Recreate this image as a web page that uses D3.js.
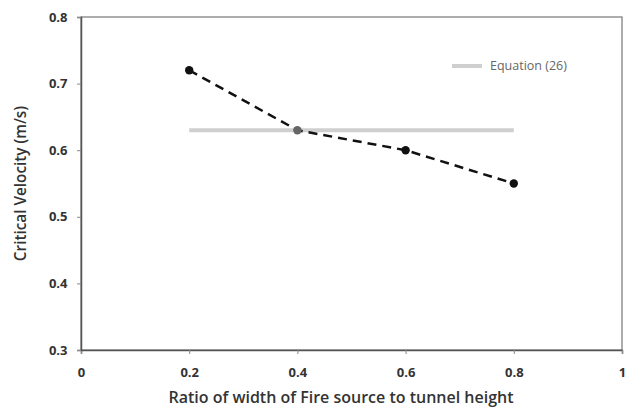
<!DOCTYPE html>
<html><head><meta charset="utf-8">
<script src="https://cdn.jsdelivr.net/npm/d3@7"></script>
<style>body{margin:0;background:#fff}svg{display:block}text{font-family:"Open Sans","Liberation Sans",sans-serif}</style>
</head><body><svg id="c" width="632" height="410"></svg>
<script>
const ratios = [0.2, 0.4, 0.6, 0.8];
const velocities = [0.72, 0.63, 0.60, 0.55];
const equationX = [0.2, 0.8];
const equationY = [0.63, 0.63];
const xTicks = [0, 0.2, 0.4, 0.6, 0.8, 1];
const yTicks = [0.3, 0.4, 0.5, 0.6, 0.7, 0.8];
const legendLabel = "Equation (26)";
const xTitle = "Ratio of width of Fire source to tunnel height";
const yTitle = "Critical Velocity (m/s)";

const svg = d3.select("#c");
const m = {l:81, r:10, t:17, b:60};
const W = 632, H = 410;
const x = d3.scaleLinear().domain([0,1]).range([m.l, W-m.r]);
const y = d3.scaleLinear().domain([0.3,0.8]).range([H-m.b, m.t]);

// frame
svg.append("rect").attr("x", x(0)).attr("y", y(0.8)).attr("width", x(1)-x(0)).attr("height", y(0.3)-y(0.8))
  .attr("fill","none").attr("stroke","#777").attr("stroke-width",1.2);

const xa = svg.append("g").attr("transform",`translate(0,${y(0.3)})`)
  .call(d3.axisBottom(x).tickValues(xTicks).tickSize(4).tickFormat(d3.format("")));
const ya = svg.append("g").attr("transform",`translate(${x(0)},0)`)
  .call(d3.axisLeft(y).tickValues(yTicks).tickSize(4).tickFormat(d3.format(".1f")));
[xa, ya].forEach(a=>{
  a.select(".domain").attr("stroke","#555").attr("stroke-width",1.5);
  a.selectAll(".tick line").attr("stroke","#888");
  a.selectAll("text").attr("fill","#333").attr("font-size",13).attr("font-weight","bold");
});
xa.selectAll("text").attr("dy","1.55em");
ya.selectAll("text").attr("dx","-0.5em");

svg.append("text").attr("x",341).attr("y",403).attr("text-anchor","middle")
  .attr("font-size",16).attr("font-weight",600).attr("fill","#333").text(xTitle);
svg.append("text").attr("transform",`translate(26,${(y(0.3)+y(0.8))/2}) rotate(-90)`)
  .attr("text-anchor","middle").attr("font-size",15.3).attr("font-weight",600).attr("fill","#333").text(yTitle);

// equation line
svg.append("line").attr("x1",x(equationX[0])).attr("x2",x(equationX[1]))
  .attr("y1",y(equationY[0])).attr("y2",y(equationY[1]))
  .attr("stroke","#cfcfcf").attr("stroke-width",4);

// dashed data line
const line = d3.line().x((d,i)=>x(ratios[i])).y(d=>y(d));
svg.append("path").datum(velocities).attr("d",line).attr("fill","none")
  .attr("stroke","#111").attr("stroke-width",2.5).attr("stroke-dasharray","9,6");
svg.selectAll("circle.p").data(velocities).join("circle").attr("class","p")
  .attr("cx",(d,i)=>x(ratios[i])).attr("cy",d=>y(d)).attr("r",4.2)
  .attr("fill",(d,i)=>i===1?"#666":"#111");

// legend
svg.append("line").attr("x1",452).attr("x2",482).attr("y1",66).attr("y2",66)
  .attr("stroke","#cfcfcf").attr("stroke-width",4);
svg.append("text").attr("x",490).attr("y",70).attr("font-size",12.5).attr("fill","#666").text(legendLabel);
</script></body></html>
